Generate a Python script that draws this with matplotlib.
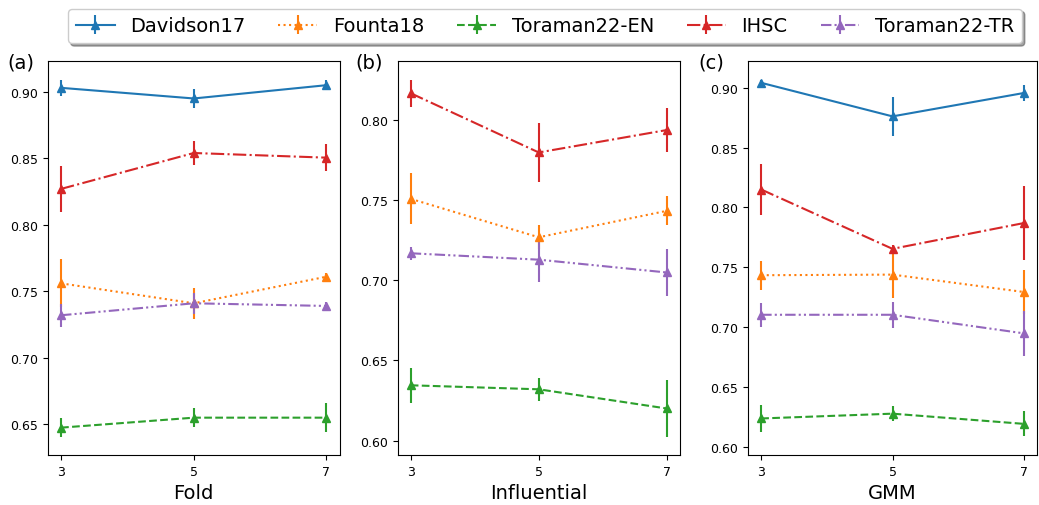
import matplotlib
matplotlib.use("Agg")
import matplotlib.pyplot as plt

x_vals = [3, 5, 7]
names = ["Davidson17", "Founta18", "Toraman22-EN", "IHSC", "Toraman22-TR"]
panels = ["(a)", "(b)", "(c)"]
xlabels = ["Fold", "Influential", "GMM"]

# mean and std per panel, per dataset
fold_mean = {
    "Davidson17": [0.903, 0.895, 0.905],
    "Founta18": [0.756, 0.741, 0.761],
    "Toraman22-EN": [0.6475, 0.655, 0.655],
    "IHSC": [0.827, 0.854, 0.8505],
    "Toraman22-TR": [0.732, 0.741, 0.739],
}
fold_std = {
    "Davidson17": [0.006, 0.007, 0.004],
    "Founta18": [0.018, 0.0115, 0.003],
    "Toraman22-EN": [0.007, 0.007, 0.011],
    "IHSC": [0.0175, 0.009, 0.01],
    "Toraman22-TR": [0.0085, 0.008, 0.003],
}
infl_mean = {
    "Founta18": [0.751, 0.727, 0.7435],
    "Toraman22-EN": [0.6345, 0.632, 0.620],
    "IHSC": [0.817, 0.780, 0.794],
    "Toraman22-TR": [0.717, 0.713, 0.705],
}
infl_std = {
    "Founta18": [0.016, 0.0076, 0.009],
    "Toraman22-EN": [0.011, 0.0073, 0.018],
    "IHSC": [0.0085, 0.0185, 0.014],
    "Toraman22-TR": [0.004, 0.014, 0.0145],
}
gmm_mean = {
    "Davidson17": [0.904, 0.876, 0.8955],
    "Founta18": [0.7435, 0.744, 0.7295],
    "Toraman22-EN": [0.624, 0.628, 0.6195],
    "IHSC": [0.815, 0.7655, 0.787],
    "Toraman22-TR": [0.7105, 0.7105, 0.695],
}
gmm_std = {
    "Davidson17": [0.002, 0.016, 0.0065],
    "Founta18": [0.012, 0.0195, 0.018],
    "Toraman22-EN": [0.0115, 0.0065, 0.0105],
    "IHSC": [0.021, 0.003, 0.031],
    "Toraman22-TR": [0.01, 0.011, 0.019],
}

colors = {"Davidson17": "tab:blue", "Founta18": "tab:orange", "Toraman22-EN": "tab:green",
          "IHSC": "tab:red", "Toraman22-TR": "tab:purple"}
styles = {"Davidson17": "-", "Founta18": ":", "Toraman22-EN": "--",
          "IHSC": "-.", "Toraman22-TR": (0, (5, 1.5, 1, 1.5, 1, 1.5))}

fig = plt.figure(figsize=(10.39, 5.06), dpi=100)
boxes = [(0.046, 0.099, 0.281, 0.778), (0.383, 0.099, 0.271, 0.778), (0.72, 0.099, 0.278, 0.778)]
ylims = [(0.627, 0.923), (0.591, 0.837), (0.5936, 0.922)]
label_x = [0.020, 0.355, 0.685]
data = [(fold_mean, fold_std), (infl_mean, infl_std), (gmm_mean, gmm_std)]

handles = {}
for i, (means, stds) in enumerate(data):
    ax = fig.add_axes(boxes[i])
    for name in names:
        if name not in means:
            continue
        h = ax.errorbar(x_vals, means[name], yerr=stds[name], color=colors[name],
                        linestyle=styles[name], marker="^", markersize=6, label=name)
        handles[name] = h
    ax.set_xticks(x_vals)
    ax.set_ylim(*ylims[i])
    ax.tick_params(labelsize=9)
    ax.set_xlabel(xlabels[i], fontsize=14)
    fig.text(label_x[i], 0.875, panels[i], fontsize=14, va="center", ha="center")

fig.legend([handles[n] for n in names], names, loc="upper center", ncol=5, fontsize=14,
           bbox_to_anchor=(0.5245, 1.0), shadow=True, fancybox=True,
           columnspacing=1.7, handlelength=2.0)

fig.savefig("out.png", dpi=100)
